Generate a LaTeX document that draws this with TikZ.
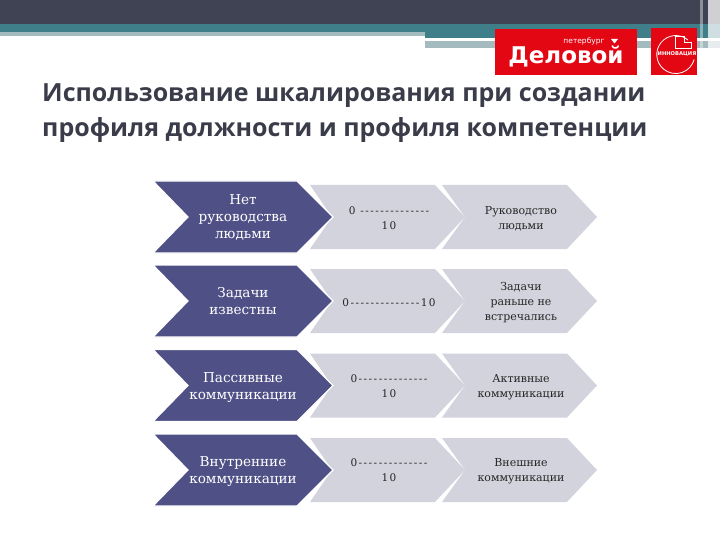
\documentclass[tikz,border=0pt]{standalone}
\usepackage{fontspec}
\setmainfont{DejaVu Serif}
\newfontfamily\dashfont[LetterSpace=14]{DejaVu Serif}
\newfontfamily\titlefont{Open Sans}
\newfontfamily\logofont{DejaVu Sans}
\usetikzlibrary{positioning}
\definecolor{Band}{HTML}{404354}
\definecolor{Teal}{HTML}{3F7F8A}
\definecolor{PaleTeal}{HTML}{A3BABF}
\definecolor{Ink}{HTML}{3A3C4A}
\definecolor{Navy}{HTML}{4F5186}
\definecolor{Mist}{HTML}{D2D3DC}
\definecolor{LogoRed}{HTML}{E30613}
\tikzset{
  lab/.style={align=center,text=white,font=\fontsize{13.6}{17}\selectfont,inner sep=0pt},
  mid/.style={align=center,text=black!85,font=\dashfont\fontsize{10.5}{15}\selectfont,inner sep=0pt},
  res/.style={align=center,text=black!85,font=\fontsize{11}{15}\selectfont,inner sep=0pt},
}
\begin{document}
\begin{tikzpicture}[x=1pt,y=-1pt]
  \useasboundingbox (0,0) rectangle (720,540);
  % top bands
  \fill[Band] (0,0) rectangle (720,24);
  \fill[Teal] (0,24) rectangle (720,32);
  \fill[Teal] (425,32) rectangle (720,38);
  \fill[PaleTeal] (0,32) rectangle (425,36);
  \fill[PaleTeal] (425,41) rectangle (720,48);
  \fill[white,opacity=.4] (700,0) rectangle (703,48);
  \fill[white,opacity=.75] (708,0) rectangle (720,48);
  % logos
  \fill[LogoRed] (495,29) rectangle (637,75);
  \fill[LogoRed] (651,28) rectangle (697,75);
  \node[anchor=base,text=white,font=\logofont\bfseries\fontsize{23}{23}\selectfont,inner sep=0pt] (delovoy) at (566,64) {Деловой};
  \node[anchor=base,text=white,font=\logofont\fontsize{7.5}{7.5}\selectfont,inner sep=0pt] (peter) at (584,44) {петербург};
  \fill[white] (611,39) -- (618,39) -- (614.5,43.5) -- cycle;
  \draw[white,thick] (688,40) arc (-50:-345:19);
  \draw[white] (675,48) -- (675,36) -- (684,36) -- (684,42) -- (691,42) -- (691,48) -- cycle;
  \node[text=white,font=\logofont\bfseries\fontsize{5.2}{5.2}\selectfont,inner sep=0pt] (innov) at (677,53.5) {ИННОВАЦИЯ};
  % title
  \node[anchor=base west,text=Ink,align=left,inner sep=0pt,
    font=\titlefont\bfseries\fontsize{25}{35}\selectfont] (title) at (42,137)
    {Использование шкалирования при создании\\профиля должности и профиля компетенции};
  % rows
  \foreach \row/\cy in {1/217,2/301,3/385.5,4/470} {
    \fill[Mist] (310,\cy-32) -- (435,\cy-32) -- (465,\cy) -- (435,\cy+32)
      -- (310,\cy+32) -- (332,\cy) -- cycle;
    \fill[Mist] (442,\cy-32) -- (567,\cy-32) -- (597,\cy) -- (567,\cy+32)
      -- (442,\cy+32) -- (465,\cy) -- cycle;
    \filldraw[Navy,draw=white,line width=1.2pt] (153,\cy-36) -- (297,\cy-36) -- (333,\cy)
      -- (297,\cy+36) -- (153,\cy+36) -- (188,\cy) -- cycle;
  }
  % labels
  \node[lab] (lab1) at (243,217.5) {Нет\\руководства\\людьми};
  \node[lab] (lab2) at (243,301.5) {Задачи\\известны};
  \node[lab] (lab3) at (243,387.5) {Пассивные\\коммуникации};
  \node[lab] (lab4) at (243,472) {Внутренние\\коммуникации};
  \node[mid] (mid1) at (389,218) {0 --------------\\10};
  \node[mid] (mid2) at (389,302.5) {0--------------10};
  \node[mid] (mid3) at (389,386.5) {0--------------\\10};
  \node[mid] (mid4) at (389,470.5) {0--------------\\10};
  \node[res] (res1) at (521,218.5) {Руководство\\людьми};
  \node[res] (res2) at (521,303) {Задачи\\раньше не\\встречались};
  \node[res] (res3) at (521,387.5) {Активные\\коммуникации};
  \node[res] (res4) at (521,471) {Внешние\\коммуникации};
\end{tikzpicture}
\end{document}
